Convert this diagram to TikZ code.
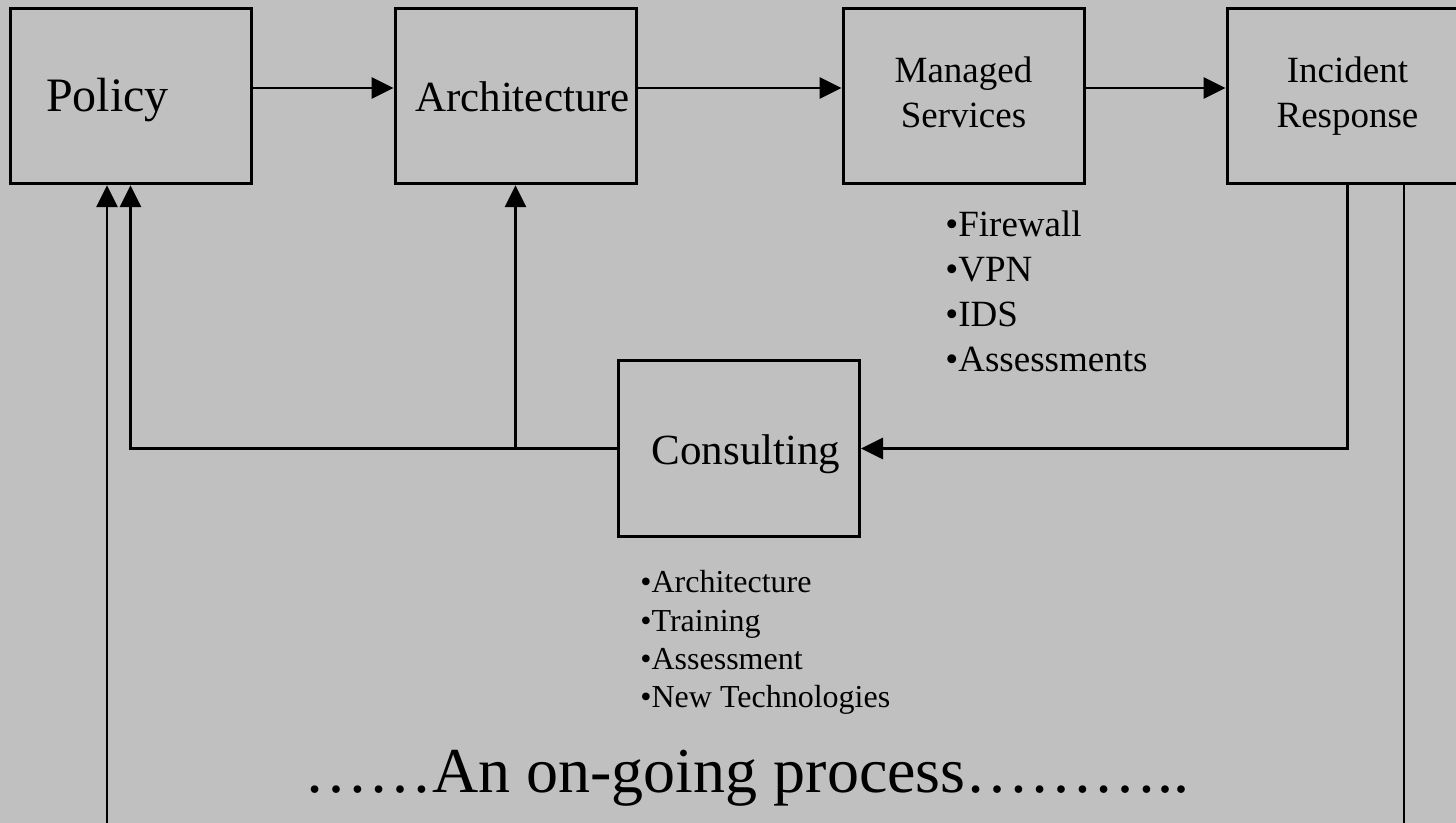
\documentclass[tikz,border=0pt]{standalone}
\usepackage{fontspec}
\setmainfont{Liberation Serif}
\usetikzlibrary{arrows.meta}
\definecolor{slidegray}{HTML}{C0C0C0}

\begin{document}
\begin{tikzpicture}[x=0.5pt,y=-0.5pt,
    stage/.style={draw=black, line width=1.5pt, minimum width=120.5pt, minimum height=87.75pt, inner sep=0pt},
    oneline/.style={text height=16pt, text depth=0pt},
    flow/.style={line width=1.4pt, -{Triangle[length=11pt,width=10.5pt]}},
    wire/.style={line width=1.4pt},
    bigtext/.style={font=\fontsize{21.5}{25.8}\selectfont},
    smalltext/.style={font=\fontsize{18.5}{22.5}\selectfont},
    bullets/.style={align=left, inner sep=0pt, anchor=north west}]
\useasboundingbox (0,0) rectangle (1456,823);
\clip (0,0) rectangle (1456,823);
\fill[slidegray] (0,0) rectangle (1456,823);

\node[stage, oneline, font=\fontsize{24}{28.8}\selectfont] (policy) at (130.5,96) {Policy\hspace*{23pt}};
\node[stage, oneline, bigtext] (arch) at (515.5,96) {\hspace*{7pt}Architecture};
\node[stage, smalltext, align=center] (managed) at (963.5,96) {Managed\\Services\vphantom{p}};
\node[stage, smalltext, align=center] (incident) at (1347.5,96) {Incident\\Response};
\node[stage, oneline, bigtext] (consult) at (739,448.5) {\hspace*{7pt}Consulting};

\node[bullets, smalltext] (services) at (945,210) {•Firewall\\•VPN\\•IDS\\•Assessments};
\node[bullets, font=\fontsize{16}{19.2}\selectfont] (topics) at (640,570) {•Architecture\\•Training\\•Assessment\\•New Technologies};
\node[anchor=base, inner sep=0pt, font=\fontsize{32}{38}\selectfont] (tagline) at (747,792) {……An on-going process………..};

\draw[flow] ([yshift=4pt]policy.east) -- ([yshift=4pt]arch.west);
\draw[flow] ([yshift=4pt]arch.east) -- ([yshift=4pt]managed.west);
\draw[flow] ([yshift=4pt]managed.east) -- ([yshift=4pt]incident.west);
\draw[flow] (incident.south) |- (consult.east);
\draw[flow] (consult.west) -| (policy.south);
\draw[flow] (arch.south |- consult.west) -- (arch.south);

\coordinate (loopL) at (107,830);
\coordinate (loopR) at (1404,830);
\draw[flow] (loopL) -- (loopL |- policy.south);
\draw[wire] (incident.south -| loopR) -- (loopR);
\end{tikzpicture}
\end{document}
